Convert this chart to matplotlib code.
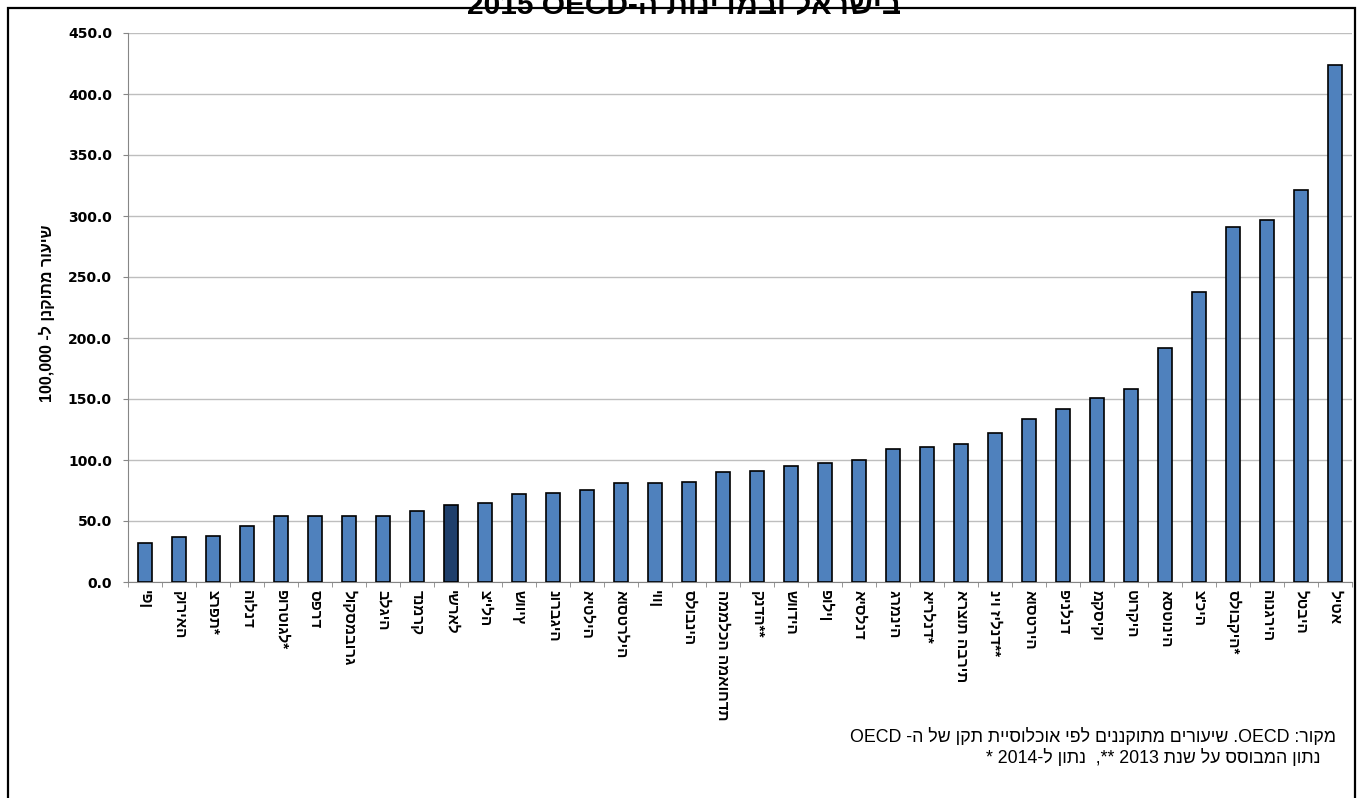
import re
import numpy as np
import matplotlib
matplotlib.use('Agg')
import matplotlib.pyplot as plt
from matplotlib.patches import Rectangle
from matplotlib.ticker import FormatStrFormatter

# data (rate per 100,000)
countries = ['יפן', 'קוריאה', 'צרפת*', 'הולנד', 'פורטוגל*', 'ספרד', 'לוקסמבורג',
             'בלגיה', 'דנמרק', 'ישראל', "צ'ילה", 'שוויץ', 'נורבגיה', 'איטליה',
             'אוסטרליה', 'יוון', 'סלובניה', 'הממלכה המאוחדת', 'קנדה**', 'שוודיה',
             'פולין', 'איסלנד', 'גרמניה', 'אירלנד*', 'ארצות הברית', 'ניו זילנד**',
             'אוסטריה', 'פינלנד', 'מקסיקו', 'טורקיה', 'אסטוניה', "צ'כיה",
             'סלובקיה*', 'הונגריה', 'לטביה', 'ליטא']
rates = [32, 37, 38, 46, 54, 54, 54, 54, 58, 63, 65, 72, 73, 75.5, 81, 81, 82,
         90, 91, 95, 97.5, 100, 109, 111, 113, 122, 134, 142, 151, 158, 192,
         238, 291, 297, 321, 424]
highlight = 'ישראל'

title = 'בישראל ובמדינות ה-OECD 2015'
ylabel = 'שיעור מתוקנן ל- 100,000'
note1 = 'מקור: OECD. שיעורים מתוקננים לפי אוכלוסיית תקן של ה- OECD'
note2 = 'נתון המבוסס על שנת 2013 **,  נתון ל-2014 *'

heb = ['Liberation Sans', 'DejaVu Sans']


def rtl(s):
    # matplotlib has no bidi, so put right-to-left text in visual order
    parts = re.findall(r'[A-Za-z0-9]+(?:[.,][0-9]+)*|[^A-Za-z0-9]+', s)
    out = []
    for p in reversed(parts):
        if re.match(r'[A-Za-z0-9]', p):
            out.append(p)
        else:
            out.append(p[::-1])
    return ''.join(out)


fig = plt.figure(figsize=(13.62, 7.98), dpi=100)
ax = fig.add_axes([128 / 1362, 1 - 582 / 798, 1224 / 1362, 549 / 798])

x = np.arange(len(countries))
colors = ['#1F3F6B' if c == highlight else '#4F81BD' for c in countries]
ax.bar(x, rates, width=0.42, color=colors, edgecolor='black', linewidth=1.2, zorder=3)

ax.set_xlim(-0.5, len(countries) - 0.5)
ax.set_ylim(0, 450)
ax.set_yticks(np.arange(0, 451, 50))
ax.yaxis.set_major_formatter(FormatStrFormatter('%.1f'))
ax.yaxis.grid(True, color='#BEBEBE', linewidth=1)
ax.set_axisbelow(True)

for s in ['top', 'right']:
    ax.spines[s].set_visible(False)
for s in ['left', 'bottom']:
    ax.spines[s].set_color('#868686')

ax.tick_params(axis='y', length=3.6, color='#868686', pad=8)
for lab in ax.get_yticklabels():
    lab.set_fontweight('bold')
    lab.set_fontsize(10)
    lab.set_family('DejaVu Sans')

ax.set_xticks(x)
ax.set_xticklabels(countries, rotation=-90, ha='center', va='top',
                   fontsize=11, fontweight='bold', family=heb)
ax.set_xticks(np.arange(-0.5, len(countries)), minor=True)
ax.tick_params(axis='x', which='major', length=0, pad=6)
ax.tick_params(axis='x', which='minor', length=3.6, color='#868686')

fig.text(47 / 1362, 1 - 313 / 798, rtl(ylabel), rotation=90, ha='center', va='center',
         fontsize=11.5, fontweight='bold', family=heb)

fig.text(684 / 1362, 1 - 14 / 798, rtl(title), ha='center', va='baseline',
         fontsize=21.5, fontweight='bold', family=heb)

fig.text(1336 / 1362, 1 - 742 / 798, rtl(note1), ha='right', va='baseline',
         fontsize=12.8, family=heb)
fig.text(1320 / 1362, 1 - 763 / 798, rtl(note2), ha='right', va='baseline',
         fontsize=12.8, family=heb)

fig.add_artist(Rectangle((8 / 1362, -0.05), 1347 / 1362, 1.05 - 8 / 798,
                         transform=fig.transFigure, fill=False,
                         edgecolor='black', linewidth=1.6))

fig.savefig('out.png', dpi=100)
